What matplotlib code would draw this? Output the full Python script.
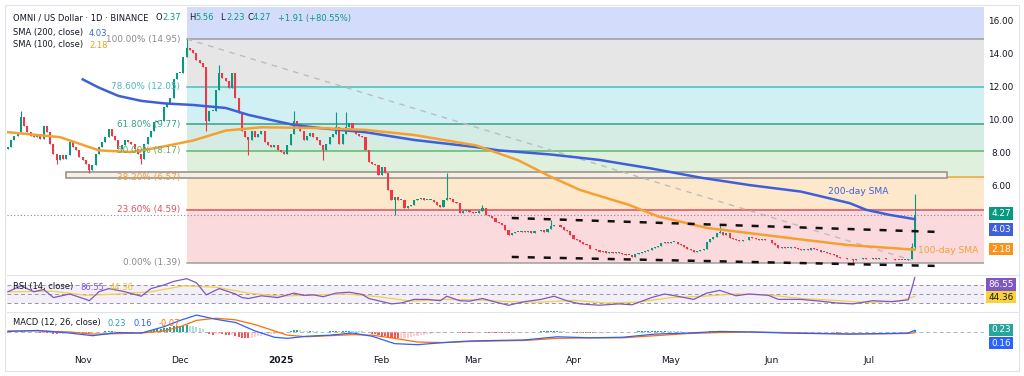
#!/usr/bin/env python3
"""OMNI / USD daily chart: fib retracement, SMA 100/200, RSI and MACD panes."""
import matplotlib
matplotlib.use("Agg")
import matplotlib.pyplot as plt
from matplotlib.patches import Rectangle

# ---- data (x = days from 2025-01-01) ----
FIRST_DAY = -84
closes = [
    8.4, 8.8, 9.1, 9.3, 10.2, 9.7, 9.3, 9.1, 9.0, 9.1,
    8.9, 9.7, 9.3, 8.6, 8.0, 7.6, 7.9, 7.7, 7.9, 8.7,
    8.4, 8.2, 7.8, 7.6, 7.4, 7.0, 7.3, 8.0, 8.4, 8.7,
    9.0, 9.5, 9.1, 8.8, 8.3, 8.5, 8.8, 8.7, 8.6, 8.3,
    8.0, 7.7, 8.6, 9.0, 9.4, 9.9, 10.0, 10.0, 10.8, 11.0,
    11.4, 12.5, 12.9, 12.9, 13.85, 14.4, 14.3, 14.1, 13.7, 13.5,
    13.25, 10.0, 10.6, 10.6, 11.85, 12.9, 12.6, 12.4, 12.0, 12.9,
    11.4, 10.45, 9.4, 9.0, 8.8, 9.4, 9.0, 9.2, 9.4, 8.7,
    8.5, 8.4, 8.5, 8.2, 8.1, 8.0, 8.5, 9.2, 10.0, 9.8,
    9.4, 8.8, 9.1, 9.25, 9.0, 8.8, 8.5, 8.2, 8.6, 9.0,
    9.2, 9.6, 8.6, 9.2, 9.6, 9.85, 9.4, 9.2, 9.1, 9.0,
    8.2, 7.5, 7.4, 7.3, 6.7, 7.2, 6.8, 5.8, 5.2, 5.4,
    5.2, 5.2, 4.7, 4.8, 4.9, 5.2, 5.25, 5.3, 5.2, 5.2,
    5.2, 5.05, 4.9, 4.75, 5.2, 5.3, 5.25, 5.1, 5.0, 4.4,
    4.5, 4.6, 4.45, 4.4, 4.4, 4.5, 4.7, 4.3, 4.2, 4.1,
    3.85, 3.8, 3.7, 3.4, 3.1, 3.2, 3.25, 3.25, 3.3, 3.25,
    3.3, 3.2, 3.3, 3.3, 3.4, 3.25, 3.45, 3.6, 3.7, 3.65,
    3.55, 3.4, 3.3, 3.1, 2.8, 2.75, 2.65, 2.55, 2.45, 2.2,
    2.25, 2.15, 2.05, 2.1, 2.0, 2.05, 2.0, 2.05, 2.0, 1.9,
    1.85, 1.85, 1.75, 1.9, 2.0, 2.05, 2.1, 2.15, 2.3, 2.35,
    2.4, 2.6, 2.65, 2.6, 2.65, 2.65, 2.55, 2.45, 2.35, 2.25,
    2.15, 2.05, 2.1, 2.15, 2.2, 2.65, 2.8, 2.95, 3.2, 3.25,
    3.1, 3.2, 2.9, 2.8, 2.75, 2.7, 2.75, 2.75, 2.95, 2.9,
    2.85, 2.75, 2.8, 2.75, 2.75, 2.6, 2.45, 2.3, 2.35, 2.3,
    2.3, 2.35, 2.3, 2.25, 2.15, 2.2, 2.15, 2.3, 2.25, 2.15,
    2.05, 2.05, 2.0, 1.9, 1.85, 1.75, 1.7, 1.65, 1.6, 1.6,
    1.55, 1.6, 1.6, 1.65, 1.6, 1.62, 1.65, 1.63, 1.66, 1.65,
    1.62, 1.6, 1.6, 1.58, 1.56, 1.55, 1.58, 1.6, 2.37, 4.27,
]
first_open = 8.3
# notable wicks: day -> price
wick_highs = {-80: 10.6, -29: 14.95, -19: 13.4, 4: 10.6, 17: 10.5, 20: 10.5,
              51: 6.8, 62: 4.9, 83: 4.0, 135: 3.7, 194: 2.6, 195: 5.56}
wick_lows = {-69: 7.4, -59: 6.85, -43: 7.4, -23: 9.4, -10: 7.9, 13: 7.6,
             35: 4.3, 176: 1.39, 195: 2.23}

sma200_days = [-61, -56, -50, -43, -36, -27, -17, -10, -3, 4, 12, 26, 41, 60, 67,
               83, 98, 114, 129, 144, 160, 175, 180, 187, 195]
sma200_vals = [12.5, 12.0, 11.5, 11.2, 11.05, 10.95, 10.77, 10.35, 10.04, 9.74, 9.55,
               9.3, 8.83, 8.4, 8.2, 7.95, 7.62, 7.1, 6.55, 6.1, 5.7, 5.0, 4.6, 4.3, 4.03]
sma100_days = [-84, -68, -56, -46, -37, -27, -17, -6, 12, 26, 41, 60, 73, 83, 92,
               107, 116, 131, 155, 174, 195]
sma100_vals = [9.3, 9.0, 8.2, 8.1, 8.4, 8.8, 9.4, 9.6, 9.55, 9.44, 9.13, 8.5, 7.6,
               6.6, 5.8, 4.9, 4.2, 3.5, 2.92, 2.47, 2.18]

fib_pct = ["100.00%", "78.60%", "61.80%", "50.00%", "38.20%", "23.60%", "0.00%"]
fib_lvl = [14.95, 12.05, 9.77, 8.17, 6.57, 4.59, 1.39]
fib_start = -29
box_days = (-66, 205)
box_prices = (6.53, 6.89)
trend_pts = ((-29, 14.95), (194, 1.55))
chan_upper = ((71, 4.10), (203, 3.25))
chan_lower = ((71, 1.74), (203, 1.19))

rsi_days = [-84, -80, -76, -73, -70, -65, -60, -59, -56, -53, -48, -43, -40, -36, -33,
            -29, -26, -23, -19, -14, -12, -10, -6, -1, 4, 7, 10, 13, 17, 21, 25, 27,
            30, 34, 37, 41, 45, 49, 51, 55, 58, 62, 66, 70, 75, 80, 84, 88, 92, 98,
            104, 108, 114, 118, 122, 127, 131, 135, 140, 144, 150, 153, 160, 166,
            171, 176, 182, 188, 193, 194, 195]
rsi_vals = [55, 68, 55, 60, 42, 50, 38, 35, 55, 62, 55, 45, 62, 70, 78, 84, 75, 48,
            62, 50, 42, 40, 46, 42, 52, 47, 48, 44, 52, 54, 49, 40, 35, 28, 30, 38,
            38, 35, 45, 35, 34, 40, 32, 25, 33, 38, 45, 35, 28, 25, 28, 26, 42, 50,
            45, 38, 52, 58, 46, 50, 47, 38, 38, 34, 30, 28, 35, 33, 37, 60, 86.55]
rsi_ma_days = [-84, -70, -60, -50, -40, -30, -20, -10, 0, 10, 20, 30, 40, 50, 60, 70,
               80, 90, 100, 110, 120, 130, 140, 150, 160, 170, 180, 190, 195]
rsi_ma_vals = [55, 56, 47, 50, 55, 68, 65, 52, 45, 48, 50, 44, 34, 38, 37, 33, 32,
               36, 30, 32, 42, 45, 50, 48, 40, 36, 31, 34, 44.36]

macd_days = [-84, -75, -65, -58, -50, -43, -36, -31, -26, -20, -14, -8, -2, 2, 8, 15,
             22, 28, 35, 42, 50, 58, 66, 75, 85, 95, 105, 115, 125, 135, 145, 155,
             165, 175, 185, 193, 195]
macd_vals = [0.05, 0.15, -0.1, -0.35, -0.05, -0.1, 0.5, 1.1, 1.6, 1.2, 0.9, 0.1, -0.5,
             -0.6, -0.4, -0.3, -0.1, -0.4, -1.1, -1.2, -1.0, -0.85, -0.8, -0.75, -0.45,
             -0.55, -0.5, -0.2, -0.1, 0.05, 0.0, -0.1, -0.15, -0.2, -0.15, -0.1, 0.16]
signal_vals = [0.1, 0.1, 0.0, -0.2, -0.15, -0.1, 0.1, 0.5, 1.1, 1.3, 1.15, 0.7, 0.1,
               -0.3, -0.45, -0.35, -0.25, -0.3, -0.6, -0.95, -1.0, -0.9, -0.85, -0.8,
               -0.6, -0.55, -0.55, -0.35, -0.15, -0.05, 0.0, -0.05, -0.12, -0.18,
               -0.17, -0.14, -0.07]
hist_cents = [
    -6, -4, 0, 4, 10, 8, 4, 0, -2, -4,
    -6, -4, -8, -12, -16, -20, -18, -16, -12, -6,
    -8, -10, -14, -16, -18, -20, -16, -10, -4, 2,
    6, 10, 10, 8, 4, 2, 2, 0, -2, -4,
    -8, -10, -4, 4, 12, 20, 26, 30, 36, 40,
    44, 52, 56, 58, 60, 64, 60, 52, 44, 36,
    28, -10, -20, -24, -20, -16, -20, -24, -28, -24,
    -36, -44, -52, -56, -60, -56, -48, -40, -34, -30,
    -24, -20, -16, -12, -8, -4, 2, 8, 16, 18,
    16, 12, 10, 10, 8, 6, 4, 2, 4, 6,
    8, 10, 8, 10, 12, 14, 12, 10, 8, 6,
    0, -8, -16, -22, -30, -34, -38, -48, -56, -60,
    -60, -58, -56, -52, -46, -40, -34, -28, -24, -20,
    -16, -14, -12, -10, -6, -2, 0, 2, 0, -6,
    -6, -6, -8, -8, -6, -5, -3, -5, -6, -6,
    -8, -8, -8, -9, -10, -9, -8, -6, -5, -3,
    -2, 0, 2, 3, 5, 5, 6, 8, 9, 9,
    8, 5, 2, -2, -5, -6, -8, -9, -10, -12,
    -12, -10, -9, -8, -6, -5, -3, -2, -2, -2,
    -2, 0, 2, 3, 5, 6, 8, 9, 10, 12,
    12, 13, 13, 12, 10, 9, 8, 5, 2, -2,
    -3, -5, -5, -3, -2, 3, 6, 9, 12, 13,
    12, 10, 8, 5, 3, 2, 0, 0, 2, 2,
    0, 0, -2, -2, -2, -3, -5, -5, -5, -3,
    -3, -2, -2, -2, -2, -2, -2, 0, 0, -2,
    -2, -2, -3, -3, -3, -5, -5, -3, -3, -3,
    -3, -2, -2, 0, 0, 0, 2, 2, 2, 2,
    2, 0, 0, 0, 0, 0, 0, 0, 8, 23,
]

month_days = [-61, -31, 0, 31, 59, 90, 120, 151, 181]
month_labels = ["Nov", "Dec", "2025", "Feb", "Mar", "Apr", "May", "Jun", "Jul"]

# ---- styling ----
UP, DOWN = "#089981", "#f23645"
BLUE, ORANGE = "#3d5fd9", "#f5a030"
TXT = "#131722"
FS = 6.0
XLIM = (-84.3, 216.3)
fib_line_c = ["#9e9e9e", "#45bfc4", "#3a9e86", "#5fb86a", "#f5a23a", "#e0505a", "#9e9e9e"]
fib_fill_c = ["#e6e6e6", "#d0f0f3", "#d4ece4", "#dff0dd", "#fde8cc", "#fbdadd"]
fib_txt_c = ["#8a8a8a", "#48b7c0", "#3a9e86", "#6aa86a", "#f0a040", "#e0505a", "#8a8a8a"]

W, H = 1024, 376
fig = plt.figure(figsize=(W / 100, H / 100), dpi=100)
L, R = 7 / W, 984 / W


def pane(top, bot):
    a = fig.add_axes([L, 1 - bot / H, R - L, (bot - top) / H])
    a.set_xlim(*XLIM)
    a.set_xticks([]); a.set_yticks([])
    for s in a.spines.values():
        s.set_visible(False)
    return a


ax = pane(7, 268)
ax.set_ylim(1.07, 16.89)
ax_rsi = pane(275, 311)
ax_rsi.set_ylim(12.2, 92.2)
ax_macd = pane(312, 352)
ax_macd.set_ylim(-1.89, 1.89)

days = list(range(FIRST_DAY, FIRST_DAY + len(closes)))

# fib zones
right = XLIM[1]
ax.fill_between([fib_start, right], fib_lvl[0], 16.89, color="#d3ddfb", lw=0, zorder=0)
for i in range(len(fib_lvl) - 1):
    ax.fill_between([fib_start, right], fib_lvl[i + 1], fib_lvl[i],
                    color=fib_fill_c[i], lw=0, zorder=0)
for i, (p, v) in enumerate(zip(fib_pct, fib_lvl)):
    ax.plot([fib_start, right], [v, v], color=fib_line_c[i], lw=1.1, zorder=1)
    ax.text(fib_start - 2, v, f"{p} ({v:.2f})", color=fib_txt_c[i], fontsize=FS + 0.4,
            ha="right", va="center", zorder=6)

# rectangle zone
ax.add_patch(Rectangle((box_days[0], box_prices[0]), box_days[1] - box_days[0],
                       box_prices[1] - box_prices[0], facecolor="#f6efe4",
                       edgecolor="#9a9690", lw=1.2, zorder=2))

# descending trendline (grey dashed)
ax.plot([trend_pts[0][0], trend_pts[1][0]], [trend_pts[0][1], trend_pts[1][1]],
        color="#bdbdbd", lw=1.0, ls=(0, (4, 4)), zorder=2)

# last price dotted
ax.axhline(closes[-1], color="#8a8a8a", lw=0.8, ls=(0, (1, 2)), zorder=2)

# candles
opens = [first_open] + closes[:-1]
for d, o, c in zip(days, opens, closes):
    col = UP if c >= o else DOWN
    hi = wick_highs.get(d, max(o, c))
    lo = wick_lows.get(d, min(o, c))
    ax.vlines(d, lo, hi, color=col, lw=0.8, zorder=4)
    ax.bar(d, max(abs(c - o), 0.04), bottom=min(o, c), width=0.62, color=col,
           lw=0, zorder=4)

# SMAs
ax.plot(sma200_days, sma200_vals, color=BLUE, lw=1.8, zorder=5)
ax.plot(sma100_days, sma100_vals, color=ORANGE, lw=1.8, zorder=5)
ax.text(177.5, 5.68, "200-day SMA", color=BLUE, fontsize=FS + 0.6, ha="center",
        va="center", zorder=6)
ax.text(196, 2.15, "100-day SMA", color=ORANGE, fontsize=FS + 0.6, ha="left",
        va="center", zorder=6)

# channel (black dashed)
for (x0, y0), (x1, y1) in (chan_upper, chan_lower):
    ax.plot([x0, x1], [y0, y1], color="#111111", lw=1.8, ls=(0, (2.8, 3.6)), zorder=5)

# ---- RSI ----
ax_rsi.axhspan(30, 70, color="#7e57c2", alpha=0.09, lw=0)
for lv in (70, 50, 30):
    ax_rsi.axhline(lv, color="#9598a1", lw=0.7, ls=(0, (4, 3)))
ax_rsi.plot(rsi_ma_days, rsi_ma_vals, color="#f5d04a", lw=0.9)
ax_rsi.plot(rsi_days, rsi_vals, color="#7e57c2", lw=0.9)

# ---- MACD ----
ax_macd.axhline(0, color="#b2b5be", lw=0.7, ls=(0, (4, 3)))
prev = 0
for d, hc in zip(days, hist_cents):
    h = hc / 100
    if h >= 0:
        col = "#26a69a" if hc >= prev else "#b2dfdb"
    else:
        col = "#ff5252" if hc <= prev else "#ffcdd2"
    ax_macd.bar(d, h, width=0.62, color=col, lw=0)
    prev = hc
ax_macd.plot(macd_days, signal_vals, color="#ff6d00", lw=0.9)
ax_macd.plot(macd_days, macd_vals, color="#2962ff", lw=0.9)

# ---- texts ----
def ftext(x, y, s, c=TXT, **kw):
    fig.text(x / W, 1 - y / H, s, color=c, fontsize=kw.pop("fs", FS), va="center",
             zorder=10, **kw)


ftext(13, 18, "OMNI / US Dollar · 1D · BINANCE")
ohlc = [("O", 156, "2.37"), ("H", 189, "5.56"), ("L", 220, "2.23"), ("C", 247, "4.27")]
for k, x, v in ohlc:
    ftext(x, 18, k)
    ftext(x + 6, 18, v, UP)
ftext(278, 18, "+1.91 (+80.55%)", UP)
ftext(13, 33, "SMA (200, close)")
ftext(89, 33, f"{sma200_vals[-1]:.2f}", BLUE)
ftext(13, 45, "SMA (100, close)")
ftext(89, 45, f"{sma100_vals[-1]:.2f}", "#e8a020")
ftext(13, 287, "RSI (14, close)")
ftext(80, 287, f"{rsi_vals[-1]:.2f}", "#7e57c2")
ftext(110, 287, f"{rsi_ma_vals[-1]:.2f}", "#e8c030")
ftext(13, 323, "MACD (12, 26, close)")
ftext(108, 323, f"{hist_cents[-1] / 100:.2f}", "#26a69a")
ftext(133, 323, f"{macd_vals[-1]:.2f}", "#2962ff")
ftext(159, 323, f"{signal_vals[-1]:.2f}", "#ff6d00")

# price scale
for v in (16, 14, 12, 10, 8, 6):
    ax.text(1.0174, v, f"{v:.2f}", transform=ax.get_yaxis_transform(),
            fontsize=FS + 0.4, color=TXT, ha="center", va="center", clip_on=False)


def tag(a, yv, s, bg, fg="white"):
    a.text(1.0174, yv, s, transform=a.get_yaxis_transform(), fontsize=FS + 0.4,
           color=fg, ha="center", va="center", clip_on=False,
           bbox=dict(boxstyle="square,pad=0.22", fc=bg, ec="none"))


tag(ax, 4.40, f"{closes[-1]:.2f}", UP)
tag(ax, 3.43, f"{sma200_vals[-1]:.2f}", BLUE)
tag(ax, 2.22, f"{sma100_vals[-1]:.2f}", "#f7931a")
tag(ax_rsi, 72, f"{rsi_vals[-1]:.2f}", "#7e57c2")
tag(ax_rsi, 43.3, f"{rsi_ma_vals[-1]:.2f}", "#f7d23a", TXT)
tag(ax_macd, 0.19, f"{hist_cents[-1] / 100:.2f}", "#26a69a")
tag(ax_macd, -1.04, f"{macd_vals[-1]:.2f}", "#2962ff")

# month labels
for d, lab in zip(month_days, month_labels):
    ax_macd.text(d, -0.1, lab, transform=ax_macd.get_xaxis_transform(), fontsize=FS + 0.6,
                 color=TXT, ha="center", va="top", clip_on=False,
                 fontweight="bold" if lab == "2025" else "normal")

# frame / separators
for y in (275, 311.5):
    fig.add_artist(plt.Line2D([L, 1 - 5 / W], [1 - y / H] * 2, color="#e0e3eb", lw=0.8))
fig.add_artist(Rectangle((5 / W, 5 / H), 1 - 10 / W, 1 - 10 / H, transform=fig.transFigure,
                         fill=False, ec="#e0e3eb", lw=0.8))

fig.savefig("out.png", dpi=100, facecolor="white")
